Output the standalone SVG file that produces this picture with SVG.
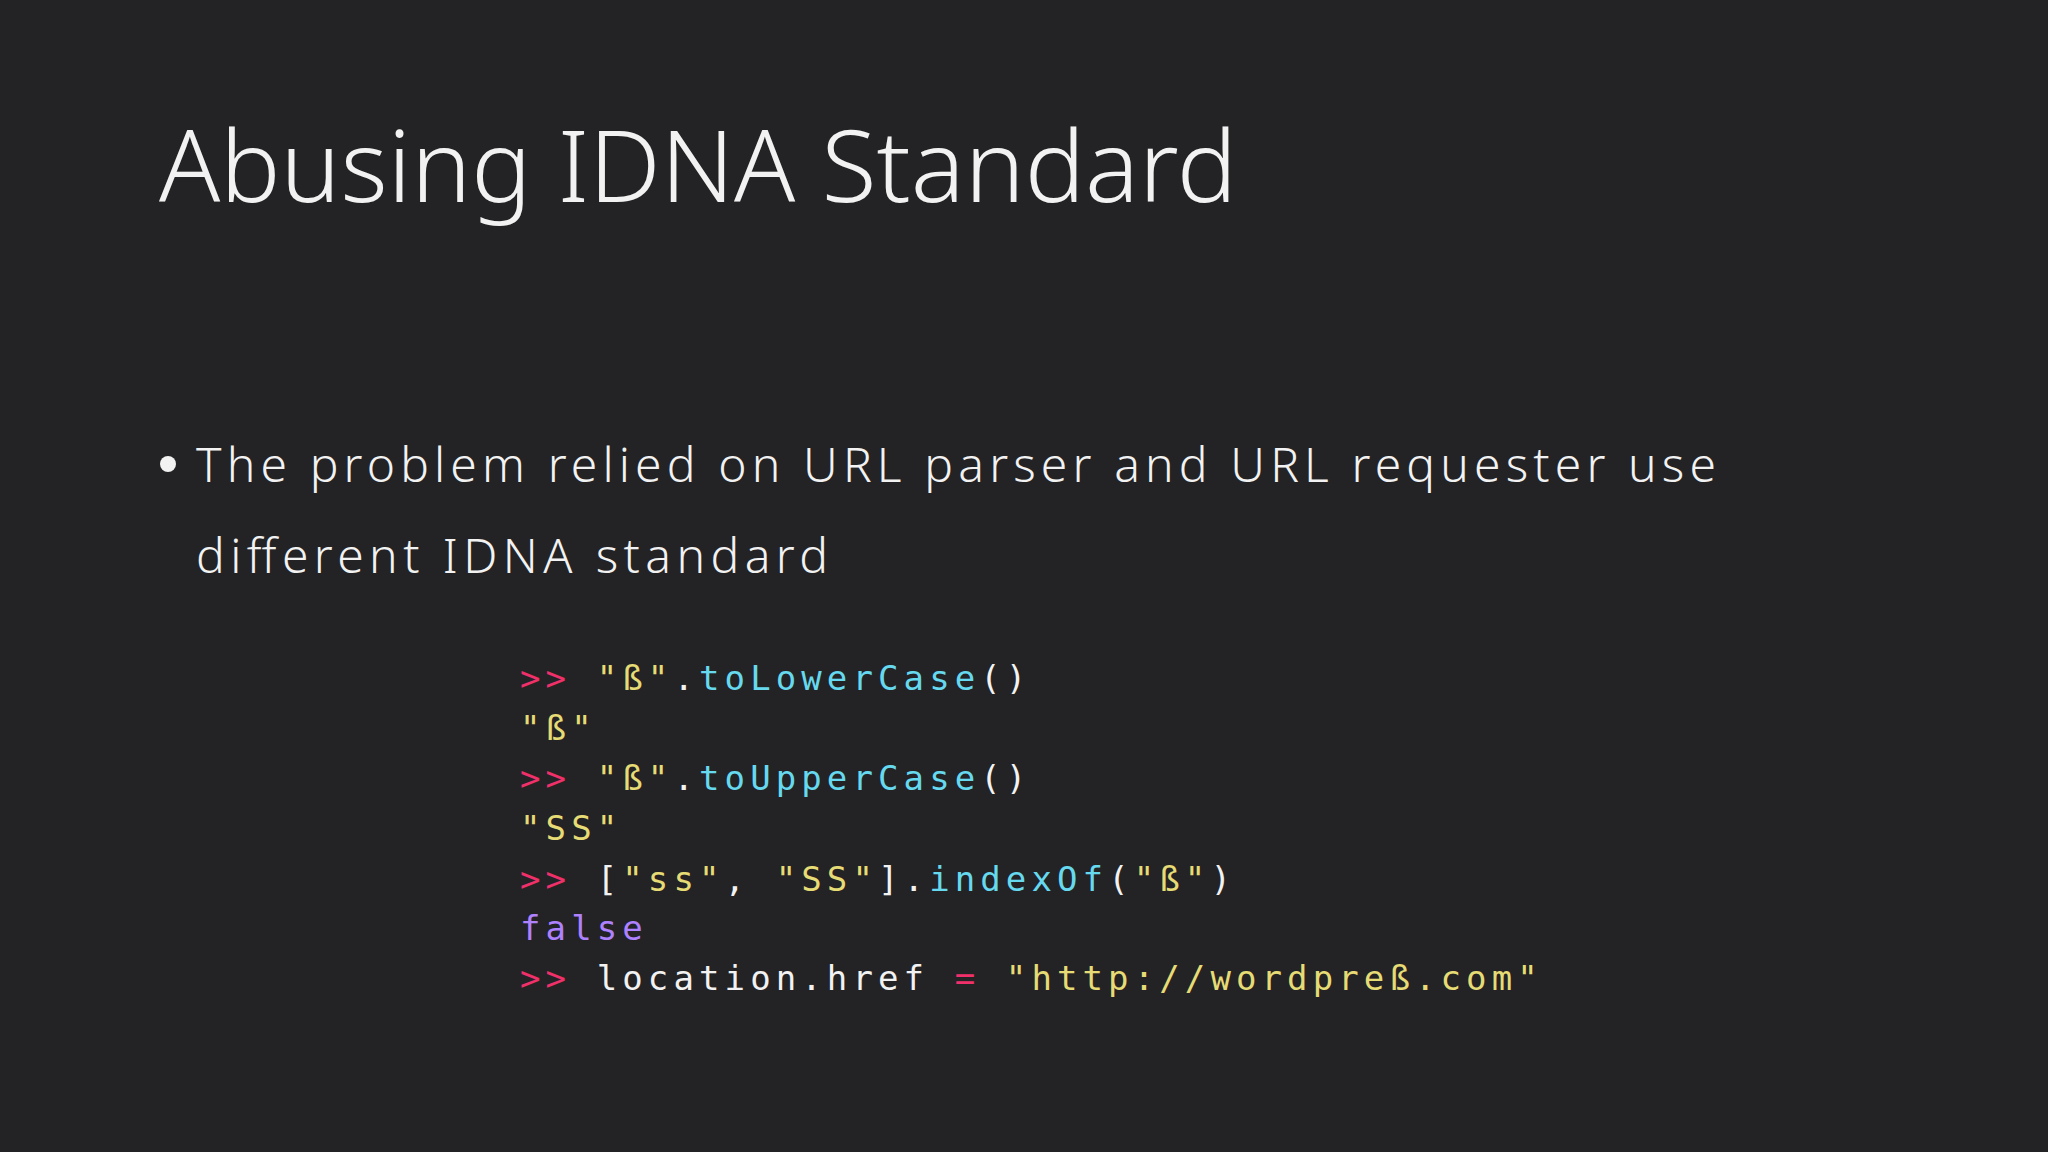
<svg xmlns="http://www.w3.org/2000/svg" width="2048" height="1152" viewBox="0 0 2048 1152">
<style>
.t{font-family:"Noto Sans","Open Sans",sans-serif;fill:#f2f2f2;font-weight:300}
.c{font-family:"DejaVu Sans Mono","Liberation Mono",monospace;font-size:34px;letter-spacing:5.1px;fill:#f2f2f2}
.p{fill:#f0306a}.y{fill:#e6db74}.b{fill:#66d9ef}.v{fill:#ae81ff}
</style>
<rect width="2048" height="1152" fill="#232325"/>
<g id="title"><text class="t" x="159" y="202" font-size="100" textLength="1078" lengthAdjust="spacingAndGlyphs">Abusing IDNA Standard</text></g>
<g id="bullet">
<circle cx="168" cy="464" r="8" fill="#f2f2f2"/>
<text class="t" x="196" y="482" font-size="48" textLength="1520" lengthAdjust="spacing">The problem relied on URL parser and URL requester use</text>
<text class="t" x="196" y="573" font-size="48" textLength="632" lengthAdjust="spacing">different IDNA standard</text>
</g>
<g id="code">
<text class="c" x="520" y="690"><tspan class="p">&gt;&gt;</tspan> <tspan class="y">"ß"</tspan>.<tspan class="b">toLowerCase</tspan>()</text>
<text class="c" x="520" y="740"><tspan class="y">"ß"</tspan></text>
<text class="c" x="520" y="790"><tspan class="p">&gt;&gt;</tspan> <tspan class="y">"ß"</tspan>.<tspan class="b">toUpperCase</tspan>()</text>
<text class="c" x="520" y="840"><tspan class="y">"SS"</tspan></text>
<text class="c" x="520" y="891"><tspan class="p">&gt;&gt;</tspan> [<tspan class="y">"ss"</tspan>, <tspan class="y">"SS"</tspan>].<tspan class="b">indexOf</tspan>(<tspan class="y">"ß"</tspan>)</text>
<text class="c" x="520" y="940"><tspan class="v">false</tspan></text>
<text class="c" x="520" y="990"><tspan class="p">&gt;&gt;</tspan> location.href <tspan class="p">=</tspan> <tspan class="y">"http://wordpreß.com"</tspan></text>
</g>
</svg>
